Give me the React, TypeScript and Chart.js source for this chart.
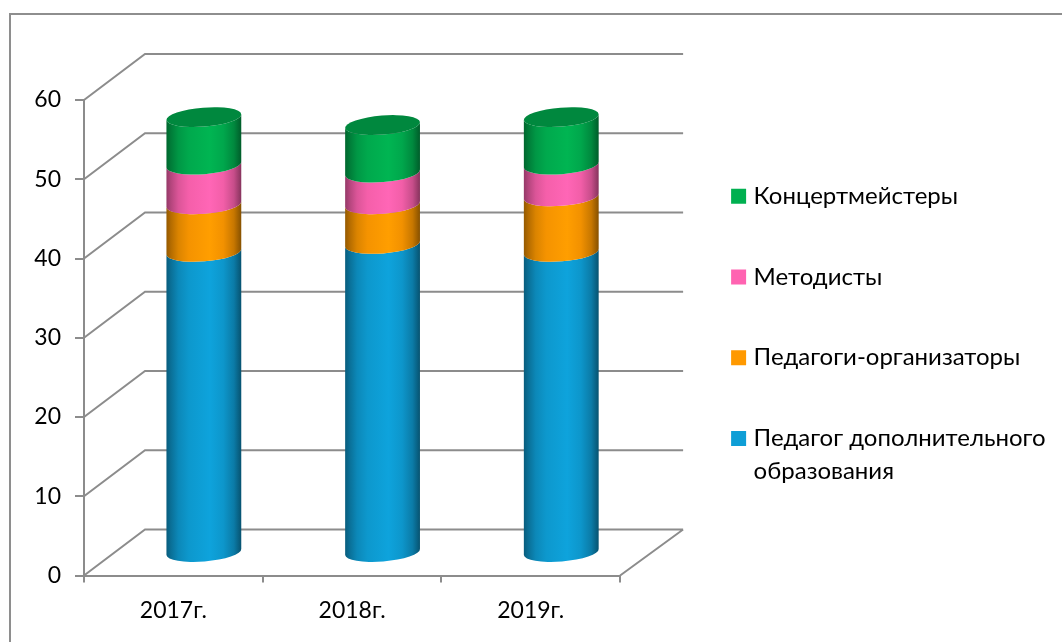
import React, { useEffect, useRef } from "react";
import { Chart, registerables } from "chart.js";

Chart.register(...registerables);

const categories = ["2017г.", "2018г.", "2019г."];
const teachers = [38, 39, 38];
const organizers = [6, 5, 7];
const methodists = [5, 4, 4];
const accompanists = [6, 6, 6];
const yTicks = [0, 10, 20, 30, 40, 50, 60];

const FONT = "Lato, 'Noto Sans', sans-serif";
const GRAY = "#8c8c8c";
const DEPTH_X = 61;
const DEPTH_Y = 46;

function shade(hex: string, k: number) {
  const n = parseInt(hex.slice(1), 16);
  const c = [(n >> 16) & 255, (n >> 8) & 255, n & 255].map((v) => Math.min(255, Math.round(v * k)));
  return `rgb(${c[0]},${c[1]},${c[2]})`;
}

function sideGradient(ctx: CanvasRenderingContext2D, x0: number, x1: number, hex: string) {
  const g = ctx.createLinearGradient(x0, 0, x1, 0);
  const stops: [number, number][] = [
    [0, 0.58], [0.06, 0.7], [0.16, 0.86], [0.3, 0.96], [0.58, 1.03], [0.76, 0.95], [0.9, 0.78], [1, 0.52],
  ];
  stops.forEach(([p, k]) => g.addColorStop(p, shade(hex, k)));
  return g;
}

const wallsPlugin = {
  id: "walls",
  beforeDatasetsDraw(chart: any) {
    const { ctx, chartArea, scales } = chart;
    const { left, right, bottom } = chartArea;
    ctx.save();
    ctx.strokeStyle = "#8e8e8e";
    ctx.lineWidth = 2;
    ctx.beginPath();
    ctx.moveTo(10, 642);
    ctx.lineTo(10, 14);
    ctx.lineTo(1062, 14);
    ctx.stroke();
    ctx.strokeStyle = GRAY;
    ctx.lineWidth = 2;
    ctx.beginPath();
    yTicks.forEach((t) => {
      const y = scales.y.getPixelForValue(t);
      ctx.moveTo(left, y);
      ctx.lineTo(left + DEPTH_X, y - DEPTH_Y);
      ctx.lineTo(right + DEPTH_X + 2, y - DEPTH_Y);
    });
    ctx.moveTo(right, bottom);
    ctx.lineTo(right + DEPTH_X + 2, bottom - DEPTH_Y);
    ctx.stroke();
    ctx.restore();
  },
  afterDatasetsDraw(chart: any) {
    const { ctx } = chart;
    const metas = chart.getSortedVisibleDatasetMetas();
    const offX = DEPTH_X / 2;
    const offY = DEPTH_Y / 2 - 0.5;
    const rot = -0.08;
    const b = 9.5;
    ctx.save();
    metas.forEach((meta: any) => {
      const hex = chart.data.datasets[meta.index].borderColor;
      meta.data.forEach((el: any) => {
        const cx = el.x + offX;
        const a = el.width / 2;
        const yb = el.base - offY;
        const yt = el.y - offY;
        ctx.beginPath();
        ctx.ellipse(cx, yb, a, b, rot, 0, Math.PI);
        ctx.ellipse(cx, yt, a, b, rot, Math.PI, 0, true);
        ctx.closePath();
        ctx.fillStyle = sideGradient(ctx, cx - a, cx + a, hex);
        ctx.fill();
      });
    });
    const top = metas[metas.length - 1];
    top.data.forEach((el: any) => {
      const cx = el.x + offX;
      const a = el.width / 2;
      ctx.beginPath();
      ctx.ellipse(cx, el.y - offY, a, b, rot, 0, Math.PI * 2);
      ctx.fillStyle = "#00883e";
      ctx.fill();
    });
    ctx.restore();
  },
};

export default function App() {
  const ref = useRef<HTMLCanvasElement>(null);
  useEffect(() => {
    document.body.style.margin = "0";
    const series = [
      { label: "Педагог дополнительного образования", data: teachers, color: "#0e9ed6" },
      { label: "Педагоги-организаторы", data: organizers, color: "#ff9900" },
      { label: "Методисты", data: methodists, color: "#ff63b1" },
      { label: "Концертмейстеры", data: accompanists, color: "#00b050" },
    ];
    const chart = new Chart(ref.current!, {
      type: "bar",
      plugins: [wallsPlugin],
      data: {
        labels: categories,
        datasets: series.map((s) => ({
          label: s.label,
          data: s.data,
          backgroundColor: "rgba(0,0,0,0)",
          borderColor: s.color,
          borderWidth: 0,
          barPercentage: 0.42,
          categoryPercentage: 1,
        })),
      },
      options: {
        responsive: false,
        animation: false,
        layout: { padding: { top: 100, left: 0, right: 6.5, bottom: 0 } },
        scales: {
          x: {
            stacked: true,
            afterFit: (s: any) => { s.height = 66.5; },
            grid: { drawOnChartArea: false, color: GRAY, lineWidth: 2, tickLength: 7 },
            border: { color: GRAY, width: 2 },
            ticks: { color: "#000", padding: 14, font: { family: FONT, size: 23 } },
          },
          y: {
            stacked: true,
            min: 0,
            max: 60,
            afterFit: (s: any) => { s.width = 84; },
            afterBuildTicks: (s: any) => { s.ticks = yTicks.map((v) => ({ value: v })); },
            grid: { drawOnChartArea: false, color: GRAY, lineWidth: 2, tickLength: 9 },
            border: { color: GRAY, width: 2 },
            ticks: { color: "#000", padding: 14, font: { family: FONT, size: 23 } },
          },
          gap: {
            type: "linear",
            position: "right",
            display: true,
            grid: { display: false },
            border: { display: false },
            ticks: { display: false },
            afterFit: (s: any) => { s.width = 58.8; },
          },
        },
        plugins: {
          tooltip: { enabled: false },
          title: { display: false },
          legend: {
            display: true,
            position: "right",
            fullSize: false,
            maxWidth: 420,
            labels: {
              usePointStyle: true,
              boxWidth: 6,
              boxHeight: 15,
              padding: 56.7,
              color: "#000",
              font: { family: FONT, size: 24, lineHeight: 1.35 },
              generateLabels: () =>
                [...series].reverse().map((s, i) => ({
                  text: s.label.startsWith("Педагог доп") ? ["Педагог дополнительного", "образования"] : s.label,
                  fillStyle: s.color,
                  strokeStyle: s.color,
                  lineWidth: 0,
                  pointStyle: "rect",
                  datasetIndex: series.length - 1 - i,
                })) as any,
            },
          },
        },
      } as any,
    });
    return () => chart.destroy();
  }, []);
  return (
    <div style={{ position: "fixed", inset: 0, background: "#fff" }}>
      <canvas ref={ref} width={1062} height={642} style={{ display: "block" }} />
    </div>
  );
}
